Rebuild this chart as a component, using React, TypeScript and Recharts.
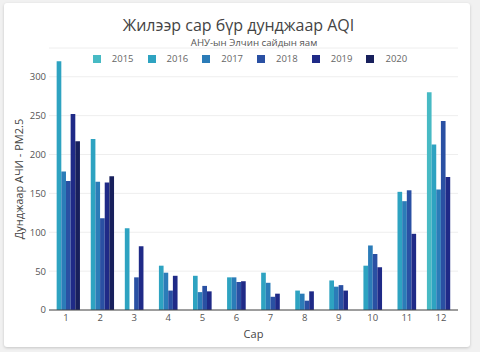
import { BarChart, Bar, XAxis, YAxis, CartesianGrid, Legend } from 'recharts'

const months = ['1', '2', '3', '4', '5', '6', '7', '8', '9', '10', '11', '12']
const years = ['2015', '2016', '2017', '2018', '2019', '2020']
const colors = ['#47bac4', '#2ea3c1', '#2b7cb8', '#2a50a3', '#1f2a87', '#18205c']

const aqi2015 = [null, null, null, null, null, null, null, null, null, null, null, 280]
const aqi2016 = [320, 220, 105, 57, 44, 42, 48, 25, 38, 57, 152, 213]
const aqi2017 = [178, 165, null, 48, 23, 42, 35, 21, 30, 83, 140, 155]
const aqi2018 = [166, 118, 42, 25, 31, 36, 17, 12, 32, 72, 154, 243]
const aqi2019 = [252, 164, 82, 44, 24, 37, 21, 24, 25, 55, 98, 171]
const aqi2020 = [217, 172, null, null, null, null, null, null, null, null, null, null]

const yTicks = [0, 50, 100, 150, 200, 250, 300]

const seriesByYear = [aqi2015, aqi2016, aqi2017, aqi2018, aqi2019, aqi2020]

const data = months.map((m, i) => {
  const row: Record<string, string | number | null> = { month: m }
  years.forEach((y, k) => {
    row[y] = seriesByYear[k][i]
  })
  return row
})

const FONT = '"Open Sans", Verdana, sans-serif'

function LegendRow(props: any) {
  const payload = props.payload || []
  return (
    <div style={{ display: 'flex', justifyContent: 'center', height: 10, lineHeight: '10px', fontFamily: FONT, fontSize: 9.5, color: '#666' }}>
      {payload.map((p: any) => (
        <div key={p.value} style={{ display: 'flex', alignItems: 'center', marginRight: 14 }}>
          <span style={{ display: 'inline-block', width: 8, height: 8, background: p.color, marginRight: 11 }} />
          <span>{p.value}</span>
        </div>
      ))}
    </div>
  )
}

export default function App() {
  return (
    <div style={{ position: 'absolute', left: 0, top: 0, width: 480, height: 352, background: '#f1f1f1', fontFamily: FONT }}>
      <div
        style={{
          position: 'absolute', left: 4, top: 3, width: 466, height: 344, background: '#fff',
          borderRadius: 3, boxShadow: '0 1px 3px rgba(0,0,0,0.18)',
        }}
      />
      <div style={{ position: 'absolute', left: 0, top: 13, width: 477, textAlign: 'center', fontSize: 16, lineHeight: '24px', color: '#444' }}>
        Жилээр сар бүр дунджаар AQI
      </div>
      <div style={{ position: 'absolute', left: 0, top: 36, width: 508, textAlign: 'center', fontSize: 9.7, lineHeight: '14px', color: '#555' }}>
        АНУ-ын Элчин сайдын яам
      </div>
      <div style={{ position: 'absolute', left: 0, top: 0 }}>
        <BarChart
          width={480}
          height={352}
          data={data}
          margin={{ top: 38, right: 22, left: 0, bottom: 14 }}
          barCategoryGap="9%"
          barGap={0}
          barSize={4.66}
        >
          <CartesianGrid vertical={false} stroke="#eeeeee" />
          <XAxis
            dataKey="month"
            height={28}
            tickSize={0}
            tickMargin={4}
            axisLine={{ stroke: '#444', strokeWidth: 1 }}
            tick={{ fill: '#555', fontSize: 9.5, fontFamily: FONT }}
            label={{ value: 'Сар', position: 'insideBottom', offset: 0, fill: '#444', fontSize: 11, fontFamily: FONT }}
          />
          <YAxis
            width={49}
            domain={[0, 337]}
            ticks={yTicks}
            tickSize={0}
            tickMargin={3}
            axisLine={false}
            tick={{ fill: '#555', fontSize: 9.5, fontFamily: FONT }}
            label={{ value: 'Дунджаар АЧИ - PM2.5', angle: -90, position: 'center', dx: -5, fill: '#444', fontSize: 11, fontFamily: FONT }}
          />
          <Legend
            verticalAlign="top"
            content={<LegendRow />}
            wrapperStyle={{ position: 'absolute', top: 54, left: 92, width: 330, height: 10 }}
          />
          {years.map((y, k) => (
            <Bar key={y} dataKey={y} fill={colors[k]} isAnimationActive={false} />
          ))}
        </BarChart>
      </div>
    </div>
  )
}
